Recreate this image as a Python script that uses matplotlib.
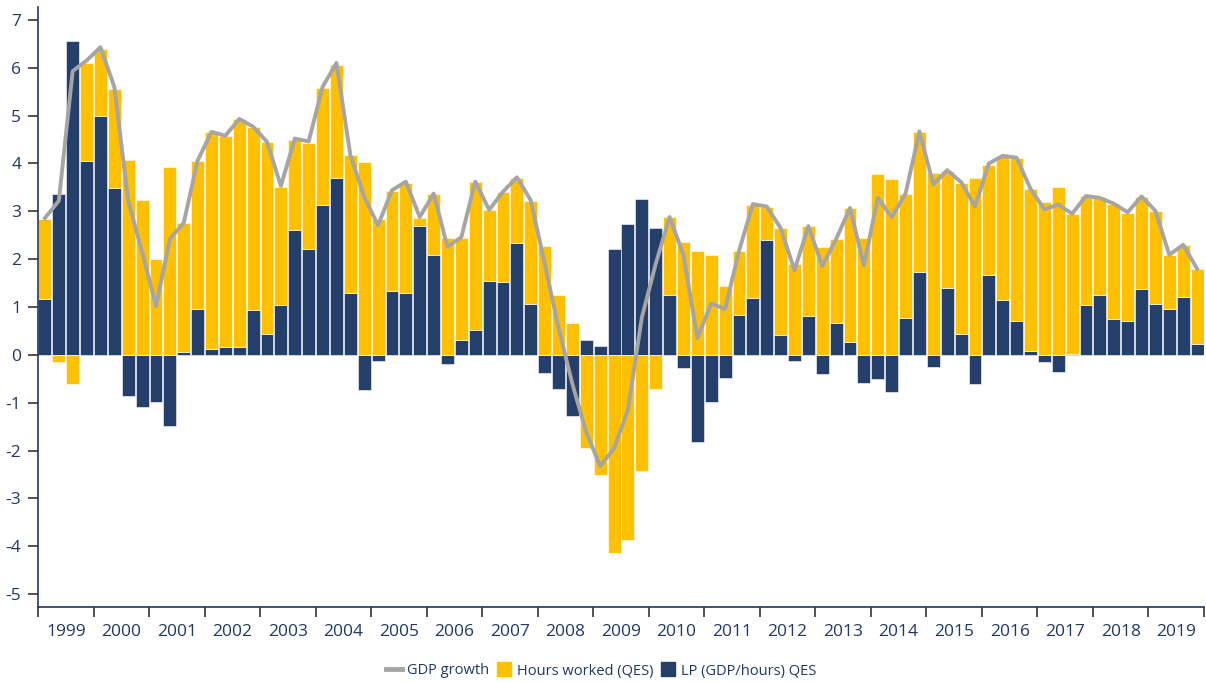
import matplotlib
matplotlib.use("Agg")
import matplotlib.pyplot as plt
from matplotlib.lines import Line2D
import numpy as np

years = [str(y) for y in range(1999, 2020)]

lp = [1.17, 3.37, 6.56, 4.06,   5.00, 3.48, -0.86, -1.08,   -0.98, -1.48, 0.06, 0.95,
      0.13, 0.16, 0.16, 0.93,   0.43, 1.05, 2.60, 2.22,     3.14, 3.70, 1.30, -0.74,
      -0.12, 1.33, 1.30, 2.69,  2.08, -0.19, 0.32, 0.51,    1.55, 1.52, 2.34, 1.06,
      -0.37, -0.71, -1.27, 0.32, 0.18, 2.21, 2.73, 3.26,    2.66, 1.25, -0.27, -1.82,
      -0.99, -0.48, 0.84, 1.18, 2.40, 0.41, -0.13, 0.82,    -0.40, 0.67, 0.26, -0.58,
      -0.50, -0.78, 0.76, 1.73, -0.25, 1.40, 0.44, -0.60,   1.66, 1.15, 0.70, 0.07,
      -0.15, -0.36, 0.02, 1.04, 1.26, 0.74, 0.70, 1.38,     1.06, 0.95, 1.21, 0.22]

hours = [1.67, -0.14, -0.61, 2.04,  1.40, 2.07, 4.08, 3.23,   2.00, 3.92, 2.70, 3.11,
         4.53, 4.42, 4.77, 3.84,    4.02, 2.46, 1.89, 2.21,   2.44, 2.36, 2.87, 4.03,
         2.83, 2.09, 2.30, 0.17,    1.28, 2.45, 2.13, 3.11,   1.47, 1.89, 1.36, 2.16,
         2.28, 1.26, 0.66, -1.94,   -2.51, -4.14, -3.86, -2.43, -0.71, 1.63, 2.36, 2.17,
         2.08, 1.44, 1.33, 1.96,    0.70, 2.24, 1.90, 1.87,   2.26, 1.75, 2.81, 2.45,
         3.79, 3.68, 2.60, 2.93,    3.81, 2.45, 3.16, 3.70,   2.31, 2.99, 3.41, 3.40,
         3.19, 3.50, 2.92, 2.27,    2.01, 2.41, 2.27, 1.92,   1.94, 1.13, 1.08, 1.58]

gdp = [2.86, 3.22, 5.93, 6.15,  6.43, 5.60, 3.22, 2.15,   1.02, 2.42, 2.76, 4.06,
       4.66, 4.58, 4.93, 4.77,  4.45, 3.53, 4.52, 4.46,   5.60, 6.10, 4.18, 3.30,
       2.71, 3.44, 3.62, 2.88,  3.37, 2.26, 2.46, 3.62,   3.03, 3.41, 3.71, 3.23,
       1.91, 0.56, -0.61, -1.62, -2.33, -1.95, -1.15, 0.78, 1.90, 2.88, 2.09, 0.35,
       1.07, 0.96, 2.17, 3.15,  3.10, 2.65, 1.77, 2.69,   1.86, 2.42, 3.07, 1.87,
       3.28, 2.88, 3.37, 4.67,  3.56, 3.86, 3.61, 3.10,   4.00, 4.16, 4.12, 3.47,
       3.04, 3.14, 2.95, 3.32,  3.28, 3.16, 2.98, 3.31,   3.01, 2.09, 2.30, 1.80]

NAVY = "#243F6A"
YELLOW = "#FFC000"
GRAY = "#A5A5A5"
TXT = "#1F3864"

plt.rcParams['font.family'] = ['Open Sans', 'DejaVu Sans']

fig = plt.figure(figsize=(12.06, 6.82), dpi=100)
ax = fig.add_axes([38/1206, 1-607/682, (1204-38)/1206, (607-7)/682])

n = len(lp)
x = np.arange(n)
lp_a = np.array(lp)
h_a = np.array(hours)
h_bottom = np.where(h_a >= 0, np.maximum(lp_a, 0), np.minimum(lp_a, 0))

w = 0.93
ax.bar(x, lp_a, width=w, color=NAVY, edgecolor="white", linewidth=0.4, zorder=2)
ax.bar(x, h_a, bottom=h_bottom, width=w, color=YELLOW, edgecolor="white", linewidth=0.4, zorder=2)
ax.plot(x, gdp, color=GRAY, linewidth=2.8, zorder=3, solid_joinstyle='round')

ax.set_xlim(-0.5, n - 0.5)
ax.set_ylim(-5.27, 7.27)
ax.set_yticks(range(-5, 8))
ax.set_yticklabels([str(v) for v in range(-5, 8)])

# year boundaries as major ticks, labels at year centres as minor ticks
ax.set_xticks(np.arange(-0.5, n, 4))
ax.set_xticklabels([])
ax.set_xticks(np.arange(1.5, n, 4), minor=True)
ax.set_xticklabels(years, minor=True)
ax.tick_params(axis='x', which='major', length=7, width=1.2, color="#333333", direction='out')
ax.tick_params(axis='x', which='minor', length=0, pad=12, labelsize=12.5, labelcolor=TXT)
ax.tick_params(axis='y', length=7, width=1.2, color="#333333", direction='out', pad=5,
               labelsize=12.5, labelcolor=TXT)

for s in ['top', 'right']:
    ax.spines[s].set_visible(False)
for s in ['left', 'bottom']:
    ax.spines[s].set_color(TXT)
    ax.spines[s].set_linewidth(1.2)

handles = [Line2D([0], [0], color=GRAY, lw=3.5),
           Line2D([0], [0], marker='s', color='none', markerfacecolor=YELLOW, markeredgecolor=YELLOW, markersize=10),
           Line2D([0], [0], marker='s', color='none', markerfacecolor=NAVY, markeredgecolor=NAVY, markersize=10)]
labels = ["GDP growth", "Hours worked (QES)", "LP (GDP/hours) QES"]
fig.legend(handles, labels, loc='center', bbox_to_anchor=(601/1206, 1-671/682), ncol=3,
           frameon=False, fontsize=10.5, labelcolor=TXT, handlelength=1.1,
           handletextpad=0.35, columnspacing=0.45)

fig.savefig("out.png", dpi=100)
